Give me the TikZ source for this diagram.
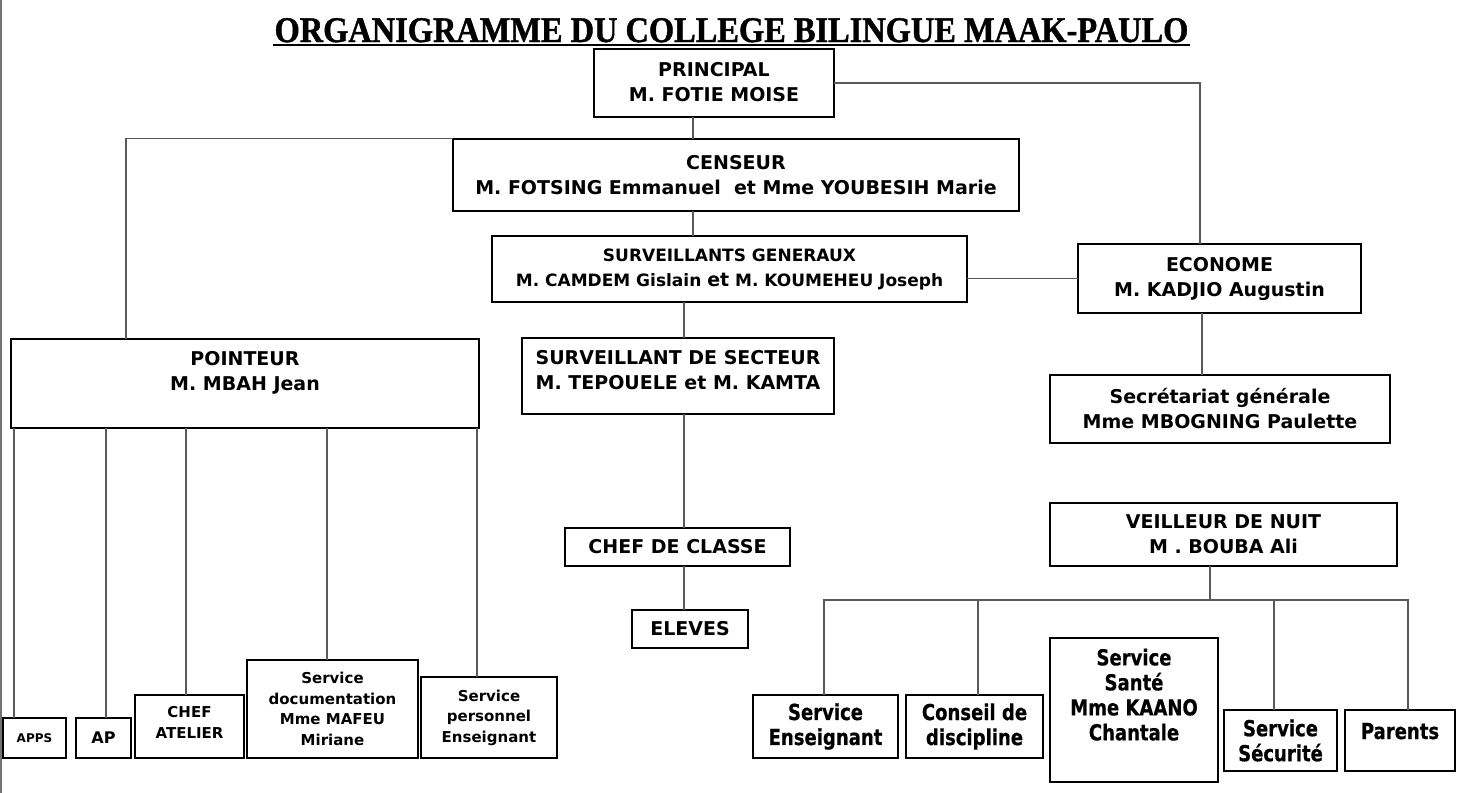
\documentclass[tikz,border=0pt]{standalone}
\usepackage{fontspec}
\setmainfont{DejaVu Sans}
\newfontfamily\titlefont{Liberation Serif}[FakeStretch=0.9,FakeBold=1.2]
\newfontfamily\narrowfont{DejaVu Sans}[FakeStretch=0.82,FakeBold=0.6]

\tikzset{
  box/.style={draw,line width=1.2pt,inner sep=0pt,align=center,font=\bfseries\fontsize{19}{25}\selectfont},
  smallbox/.style={box,font=\bfseries\fontsize{15}{20.5}\selectfont},
  narrowbox/.style={box,font=\narrowfont\bfseries\fontsize{22}{25}\selectfont},
  wh/.style 2 args={minimum width=#1,minimum height=#2},
  conn/.style={draw=black!65,line width=1.2pt},
}

\begin{document}
\begin{tikzpicture}[x=1pt,y=-1pt,line cap=rect]
\useasboundingbox (0,0) rectangle (1463,792);
\draw[black!55,line width=2pt] (1,0) -- (1,792);

\node[font=\titlefont\bfseries\fontsize{36}{36}\selectfont,inner sep=0pt,anchor=base] (titre) at (731.5,42) {ORGANIGRAMME DU COLLEGE BILINGUE MAAK-PAULO};
\draw[line width=2.5pt] ([yshift=-3pt]titre.base west) -- ([yshift=-3pt]titre.base east);

\node[box,wh={240}{68},text depth=2pt] (principal) at (714,83) {PRINCIPAL\\M. FOTIE MOISE};
\node[box,wh={566}{72}] (censeur) at (736,175) {CENSEUR\\M. FOTSING Emmanuel\ \ et Mme YOUBESIH Marie};
\node[box,wh={475}{66},font=\bfseries\fontsize{17}{25}\selectfont] (sg) at (729.5,269) {SURVEILLANTS GENERAUX\\M. CAMDEM Gislain {\fontsize{19}{25}\selectfont et} M. KOUMEHEU Joseph};
\node[box,wh={283}{69}] (econome) at (1219.5,278.5) {ECONOME\\M. KADJIO Augustin};
\node[box,wh={468}{89},text depth=26pt] (pointeur) at (245,383.5) {POINTEUR\\M. MBAH Jean};
\node[box,wh={312}{76},text depth=13pt] (secteur) at (678,376) {SURVEILLANT DE SECTEUR\\M. TEPOUELE et M. KAMTA};
\node[box,wh={340}{68}] (secretariat) at (1220,409) {Secrétariat générale\\Mme MBOGNING Paulette};
\node[box,wh={347}{63}] (veilleur) at (1223.5,534.5) {VEILLEUR DE NUIT\\M . BOUBA Ali};
\node[box,wh={225}{38}] (classe) at (677.5,547) {CHEF DE CLASSE};
\node[box,wh={116}{38}] (eleves) at (690,629) {ELEVES};

\node[box,wh={63}{40},font=\bfseries\fontsize{12}{15}\selectfont] (apps) at (34.5,738) {APPS};
\node[box,wh={55}{40},font=\bfseries\fontsize{16}{20}\selectfont] (ap) at (103.5,738) {AP};
\node[smallbox,wh={109}{63},text depth=8pt] (atelier) at (189.5,726.5) {CHEF\\ATELIER};
\node[smallbox,wh={171}{98}] (doc) at (332.5,709) {Service\\documentation\\Mme MAFEU\\Miriane};
\node[smallbox,wh={136}{81}] (perso) at (489,717.5) {Service\\personnel\\Enseignant};

\node[narrowbox,wh={145}{63}] (ens) at (825.5,726.5) {Service\\Enseignant};
\node[narrowbox,wh={137}{63}] (conseil) at (974.5,726.5) {Conseil de\\discipline};
\node[narrowbox,wh={168}{144},text depth=31pt] (sante) at (1134,710) {Service\\Santé\\Mme KAANO\\Chantale};
\node[narrowbox,wh={113}{61}] (securite) at (1280.5,740.5) {Service\\Sécurité};
\node[narrowbox,wh={110}{61},text depth=19pt] (parents) at (1400,740.5) {Parents};

\coordinate (bus) at (1210,600);

\draw[conn] ([xshift=-21pt]principal.south) -- ([xshift=-21pt]principal.south |- censeur.north);
\draw[conn] (censeur.north west) -| ([xshift=-119pt]pointeur.north);
\draw[conn] (principal.east) -| ([xshift=-19.5pt]econome.north);
\draw[conn] ([xshift=-43pt]censeur.south) -- ([xshift=-43pt]censeur.south |- sg.north);
\draw[conn] (econome.west) -- (econome.west -| sg.east);
\draw[conn] ([xshift=6pt]secteur.north) -- ([xshift=6pt]secteur.north |- sg.south);
\draw[conn] ([xshift=6.5pt]classe.north) -- ([xshift=6.5pt]classe.north |- secteur.south);
\draw[conn] ([xshift=-6pt]eleves.north) -- ([xshift=-6pt]eleves.north |- classe.south);
\draw[conn] ([xshift=-18pt]secretariat.north) -- ([xshift=-18pt]secretariat.north |- econome.south);

\foreach \n/\s in {apps/-20.5,ap/2.5,atelier/-3.5,doc/-5.5,perso/-12}
  \draw[conn] ([xshift=\s pt]\n.north) -- ([xshift=\s pt]\n.north |- pointeur.south);

\draw[conn] ([xshift=-13.5pt]veilleur.south) -- (bus);
\draw[conn] ([xshift=-1.5pt]ens.north) |- ([xshift=8pt]parents.north |- bus) -- ([xshift=8pt]parents.north);
\foreach \n/\s in {conseil/3.5,securite/-6.5}
  \draw[conn] ([xshift=\s pt]\n.north) -- ([xshift=\s pt]\n.north |- bus);
\end{tikzpicture}
\end{document}
